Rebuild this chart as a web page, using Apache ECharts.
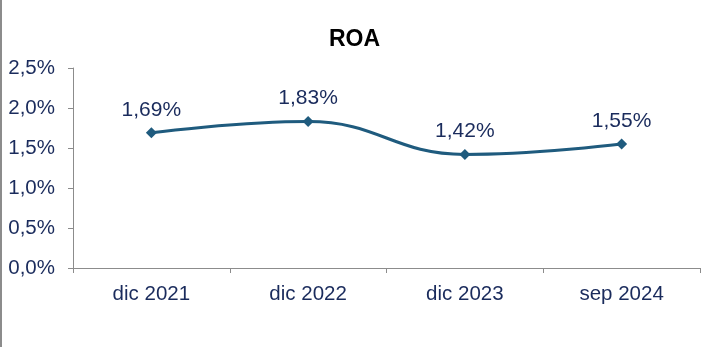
<!DOCTYPE html>
<html><head><meta charset="utf-8">
<script src="https://cdn.jsdelivr.net/npm/echarts@6/dist/echarts.min.js"></script>
<style>html,body{margin:0;padding:0;background:#fff;}#c{width:709px;height:347px;}</style>
</head><body><div id="c"></div>
<script>
const categories = ['dic 2021', 'dic 2022', 'dic 2023', 'sep 2024'];
const roaValues = [1.69, 1.83, 1.42, 1.55];
const yTicks = [0, 0.5, 1.0, 1.5, 2.0, 2.5];

const fmt = v => v.toFixed(1).replace('.', ',') + '%';
const chart = echarts.init(document.getElementById('c'));
chart.setOption({
  animation: false,
  backgroundColor: '#fff',
  textStyle: { fontFamily: 'Liberation Sans, Arial, sans-serif' },
  title: {
    text: 'ROA', left: 'center', top: 23,
    textStyle: { fontSize: 23, fontWeight: 'bold', color: '#000', fontFamily: 'Liberation Sans, Arial, sans-serif' }
  },
  graphic: [{ type: 'rect', left: 0, top: 0, shape: { width: 2, height: 347 }, style: { fill: '#8c8c8c' } }],
  grid: { left: 73, right: 9, top: 68, bottom: 79 },
  xAxis: {
    type: 'category', data: categories, boundaryGap: true,
    axisLine: { lineStyle: { color: '#8c8c8c', width: 1 } },
    axisTick: { show: true, length: 5, inside: false, lineStyle: { color: '#8c8c8c' } },
    axisLabel: { color: '#1a2b5c', fontSize: 20.5, margin: 16 },
    splitLine: { show: false }
  },
  yAxis: {
    type: 'value', min: yTicks[0], max: yTicks[yTicks.length - 1], interval: 0.5,
    axisLine: { show: true, lineStyle: { color: '#8c8c8c', width: 1 } },
    axisTick: { show: true, length: 5, lineStyle: { color: '#8c8c8c' } },
    axisLabel: { color: '#1a2b5c', fontSize: 20.5, margin: 18, formatter: fmt },
    splitLine: { show: false }
  },
  series: [{
    type: 'line', data: roaValues, smooth: 0.45,
    symbol: 'diamond', symbolSize: 11,
    lineStyle: { color: '#1f5b7e', width: 3 },
    itemStyle: { color: '#1f5b7e' },
    label: {
      show: true, position: 'top', distance: 7, color: '#1a2b5c', fontSize: 21,
      formatter: p => p.value.toFixed(2).replace('.', ',') + '%'
    }
  }]
});
</script></body></html>
